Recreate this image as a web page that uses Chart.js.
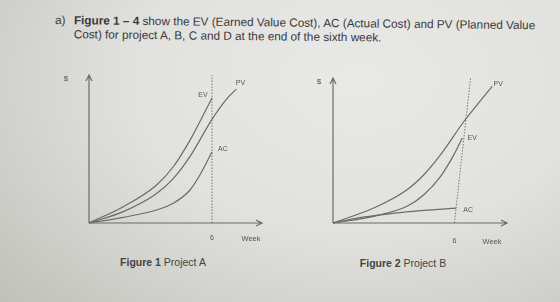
<!DOCTYPE html>
<html>
<head>
<meta charset="utf-8">
<script src="https://cdn.jsdelivr.net/npm/chart.js@4.4.1/dist/chart.umd.min.js"></script>
<style>
  html, body { margin: 0; padding: 0; }
  body {
    width: 560px; height: 302px; overflow: hidden; position: relative;
    font-family: 'Liberation Sans', Arial, sans-serif; color: #3a3a3a;
    background: radial-gradient(ellipse 560px 380px at 360px 80px, #e9e9e7 0%, #e1e1de 40%, #cdcdc8 70%, #b6b7b1 100%);
  }
  .head { position: absolute; left: 55px; top: 13px; font-size: 11.75px; line-height: 13.5px;
          transform: rotate(0.62deg); transform-origin: 0 0; white-space: nowrap; }
  .head .a { position: absolute; left: 0; top: 0; }
  .head .txt { position: absolute; left: 19px; top: 0; }
  .cap { position: absolute; font-size: 10.5px; white-space: nowrap; transform: translateX(-50%); color: #444; }
  canvas { position: absolute; }
  #chartA { left: 40px; top: 60px; }
  #chartB { left: 290px; top: 60px; }
</style>
</head>
<body>
<div class="head">
  <div class="a">a)</div>
  <div class="txt"><b>Figure 1 – 4</b> show the EV (Earned Value Cost), AC (Actual Cost) and PV (Planned Value<br>Cost) for project A, B, C and D at the end of the sixth week.</div>
</div>
<div class="cap" style="left:163px; top:256px;"><b>Figure 1</b> Project A</div>
<div class="cap" style="left:403px; top:257px;"><b>Figure 2</b> Project B</div>
<canvas id="chartA" width="240" height="200"></canvas>
<canvas id="chartB" width="250" height="200"></canvas>
<script>
(function() {
  'use strict';

  // Project A (weeks on x, $ on y in 0..100 units)
  const weeksPvA = [0, 1.67, 3.3, 4.11, 4.93, 6, 6.73, 7.19];
  const pvA = [0, 7.7, 20, 30, 45, 70, 84, 90.5];
  const weeksEvA = [0, 1.67, 3.3, 4.11, 4.93, 6];
  const evA = [0, 11, 25.7, 38, 56, 84.5];
  const weeksAcA = [0, 1.67, 3.3, 4.11, 4.93, 5.41, 6];
  const acA = [0, 3.8, 8.8, 13.3, 22.3, 32.4, 48];
  const weeksNowA = [6, 6];
  const nowA = [0, 100];

  // Project B
  const weeksPvB = [0, 2.01, 3.66, 4.49, 5.31, 6.47, 7.13, 7.87];
  const pvB = [0, 10.3, 23, 33.3, 47, 70, 81.6, 94.2];
  const weeksEvB = [0, 2.01, 3.66, 4.49, 5.31, 5.97, 6.39];
  const evB = [0, 4.6, 11.5, 19.5, 32, 47, 58.6];
  const weeksAcB = [0, 1.19, 2.84, 4.49, 6.09];
  const acB = [0, 3.4, 6.4, 8.7, 10.3];
  const weeksNowB = [6, 6.8];
  const nowB = [0, 100];

  const xTicks = [6];
  const xTitle = 'Week';
  const yTitle = '$';

  const INK = '#6b6b6b';
  const TEXT = '#555';

  function zip(xs, ys) {
    return xs.map(function(x, i) { return { x: x, y: ys[i] }; });
  }

  function curve(label, xs, ys, off) {
    return {
      label: label,
      data: zip(xs, ys),
      borderColor: INK,
      borderWidth: 1.2,
      pointRadius: 0,
      cubicInterpolationMode: 'monotone',
      fill: false,
      clip: false,
      tagOffset: off
    };
  }

  function nowLine(xs, ys) {
    return {
      label: '',
      data: zip(xs, ys),
      borderColor: '#777',
      borderWidth: 1,
      borderDash: [1.5, 1.5],
      pointRadius: 0,
      tension: 0,
      clip: false
    };
  }

  // axes with arrow heads, tick "6", axis words and curve tags
  const sketchAxes = {
    id: 'sketchAxes',
    afterDatasetsDraw: function(chart, args, o) {
      const ctx = chart.ctx;
      const a = chart.chartArea;
      const x = chart.scales.x, y = chart.scales.y;
      const x0 = x.getPixelForValue(0), y0 = y.getPixelForValue(0);
      ctx.save();
      ctx.strokeStyle = INK;
      ctx.lineWidth = 1.2;
      ctx.beginPath();
      ctx.moveTo(x0, y0); ctx.lineTo(a.right, y0);
      ctx.moveTo(a.right - 6, y0 - 3); ctx.lineTo(a.right, y0); ctx.lineTo(a.right - 6, y0 + 3);
      ctx.moveTo(x0, y0); ctx.lineTo(x0, a.top);
      ctx.moveTo(x0 - 3, a.top + 6); ctx.lineTo(x0, a.top); ctx.lineTo(x0 + 3, a.top + 6);
      ctx.stroke();

      ctx.fillStyle = TEXT;
      ctx.textAlign = 'center';
      ctx.textBaseline = 'middle';
      ctx.font = '7px "Liberation Sans", Arial, sans-serif';
      xTicks.forEach(function(t) {
        ctx.fillText(String(t), x.getPixelForValue(t), y0 + o.tickGap);
      });
      ctx.font = '7.5px "Liberation Sans", Arial, sans-serif';
      ctx.fillText(xTitle, a.right + o.weekDx, y0 + o.tickGap + 1);
      ctx.font = '8px "Liberation Sans", Arial, sans-serif';
      ctx.fillText(yTitle, x0 + o.dollarDx, a.top + 4);

      ctx.font = '7px "Liberation Sans", Arial, sans-serif';
      chart.data.datasets.forEach(function(ds, i) {
        if (!ds.label) return;
        const pts = chart.getDatasetMeta(i).data;
        const end = pts[pts.length - 1];
        ctx.fillText(ds.label, end.x + ds.tagOffset[0], end.y + ds.tagOffset[1]);
      });
      ctx.restore();
    }
  };

  function makeChart(id, datasets, xMax, pad, axesOpts) {
    return new Chart(document.getElementById(id), {
      type: 'line',
      data: { datasets: datasets },
      options: {
        responsive: false,
        animation: false,
        layout: { padding: pad },
        plugins: {
          legend: { display: false },
          tooltip: { enabled: false },
          sketchAxes: axesOpts
        },
        scales: {
          x: { type: 'linear', min: 0, max: xMax, display: false },
          y: { min: 0, max: 100, display: false }
        }
      },
      plugins: [sketchAxes]
    });
  }

  makeChart('chartA', [
    curve('EV', weeksEvA, evA, [-9, -3]),
    curve('PV', weeksPvA, pvA, [4, -6]),
    curve('AC', weeksAcA, acA, [11, -3]),
    nowLine(weeksNowA, nowA)
  ], 8.44, { left: 49, top: 15, right: 18, bottom: 37 }, { tickGap: 15, weekDx: -11, dollarDx: -23 });

  makeChart('chartB', [
    curve('PV', weeksPvB, pvB, [6, -2]),
    curve('EV', weeksEvB, evB, [10, 0]),
    curve('AC', weeksAcB, acB, [12, 2]),
    nowLine(weeksNowB, nowB)
  ], 8.6, { left: 43, top: 18, right: 33, bottom: 37 }, { tickGap: 18, weekDx: -15, dollarDx: -14 });
})();
</script>
</body>
</html>
